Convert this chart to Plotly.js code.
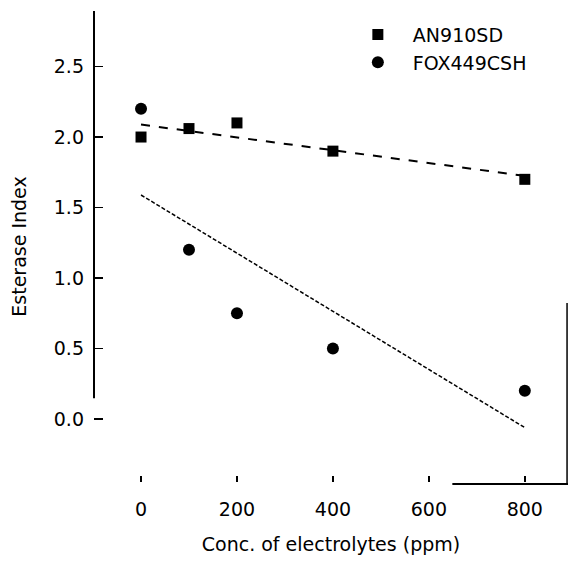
<!DOCTYPE html>
<html>
<head>
<meta charset="utf-8">
<script src="https://cdn.plot.ly/plotly-3.0.1.min.js"></script>
<style>html,body{margin:0;padding:0;background:#fff;}#chart{width:569px;height:565px;}</style>
</head>
<body>
<div id="chart"></div>
<script>
// Data
const conc = [0, 100, 200, 400, 800];
const an910sd = [2.0, 2.06, 2.1, 1.9, 1.7];
const fox449csh = [2.2, 1.2, 0.75, 0.5, 0.2];
const seriesNames = ["AN910SD", "FOX449CSH"];
const xTicks = [0, 200, 400, 600, 800];
const yTicks = [0.0, 0.5, 1.0, 1.5, 2.0, 2.5];

function linfit(x, y) {
  const n = x.length;
  const mx = x.reduce((a, b) => a + b, 0) / n;
  const my = y.reduce((a, b) => a + b, 0) / n;
  let sxy = 0, sxx = 0;
  for (let i = 0; i < n; i++) { sxy += (x[i] - mx) * (y[i] - my); sxx += (x[i] - mx) ** 2; }
  const b = sxy / sxx, a = my - b * mx;
  const xs = [Math.min(...x), Math.max(...x)];
  return { x: xs, y: xs.map(v => a + b * v) };
}
const fitA = linfit(conc, an910sd);
const fitF = linfit(conc, fox449csh);

const font = "DejaVu Sans, sans-serif";
const traces = [
  { x: fitA.x, y: fitA.y, mode: "lines", line: { color: "#000", width: 2, dash: "dash" }, showlegend: false, hoverinfo: "skip" },
  { x: fitF.x, y: fitF.y, mode: "lines", line: { color: "#000", width: 1.5, dash: "4px,2px" }, showlegend: false, hoverinfo: "skip" },
  { x: conc, y: an910sd, name: seriesNames[0], mode: "markers",
    marker: { symbol: "square", size: 11, color: "#000" } },
  { x: conc, y: fox449csh, name: seriesNames[1], mode: "markers",
    marker: { symbol: "circle", size: 12, color: "#000" } }
];

const layout = {
  width: 569, height: 565,
  margin: { l: 94, r: 1, t: 11, b: 83, pad: 0 },
  paper_bgcolor: "#fff", plot_bgcolor: "#fff",
  font: { family: font, size: 19, color: "#000" },
  showlegend: true,
  legend: { x: 0.525, y: 0.99, xanchor: "left", yanchor: "top", bgcolor: "rgba(0,0,0,0)",
            font: { size: 19 }, itemwidth: 60 },
  xaxis: {
    range: [-98, 890], tickvals: xTicks, ticktext: xTicks.map(String),
    showgrid: false, zeroline: false, showline: false,
    ticks: "inside", ticklen: 6, tickwidth: 1.5, tickcolor: "#000",
    ticklabelstandoff: 14,
    tickfont: { size: 19 },
    title: { text: "Conc. of electrolytes (ppm)", font: { size: 19 }, standoff: 18 }
  },
  yaxis: {
    range: [-0.447, 2.894], tickvals: yTicks, ticktext: yTicks.map(v => v.toFixed(1)),
    showgrid: false, zeroline: false, showline: false,
    ticks: "inside", ticklen: 9, tickwidth: 1.5, tickcolor: "#000",
    ticklabelstandoff: 9,
    tickfont: { size: 19 },
    title: { text: "Esterase Index", font: { size: 19 }, standoff: 22 }
  },
  shapes: [
    { type: "line", xref: "paper", yref: "paper", x0: 0, x1: 0, y0: 1, y1: 0.178, line: { color: "#000", width: 2 } },
    { type: "line", xref: "paper", yref: "paper", x0: 0.756, x1: 1, y0: -0.004, y1: -0.004, line: { color: "#000", width: 2 } },
    { type: "line", xref: "paper", yref: "paper", x0: 0.998, x1: 0.998, y0: -0.004, y1: 0.38, line: { color: "#000", width: 1.5 } }
  ]
};

Plotly.newPlot("chart", traces, layout, { displayModeBar: false, staticPlot: true });
</script>
</body>
</html>
